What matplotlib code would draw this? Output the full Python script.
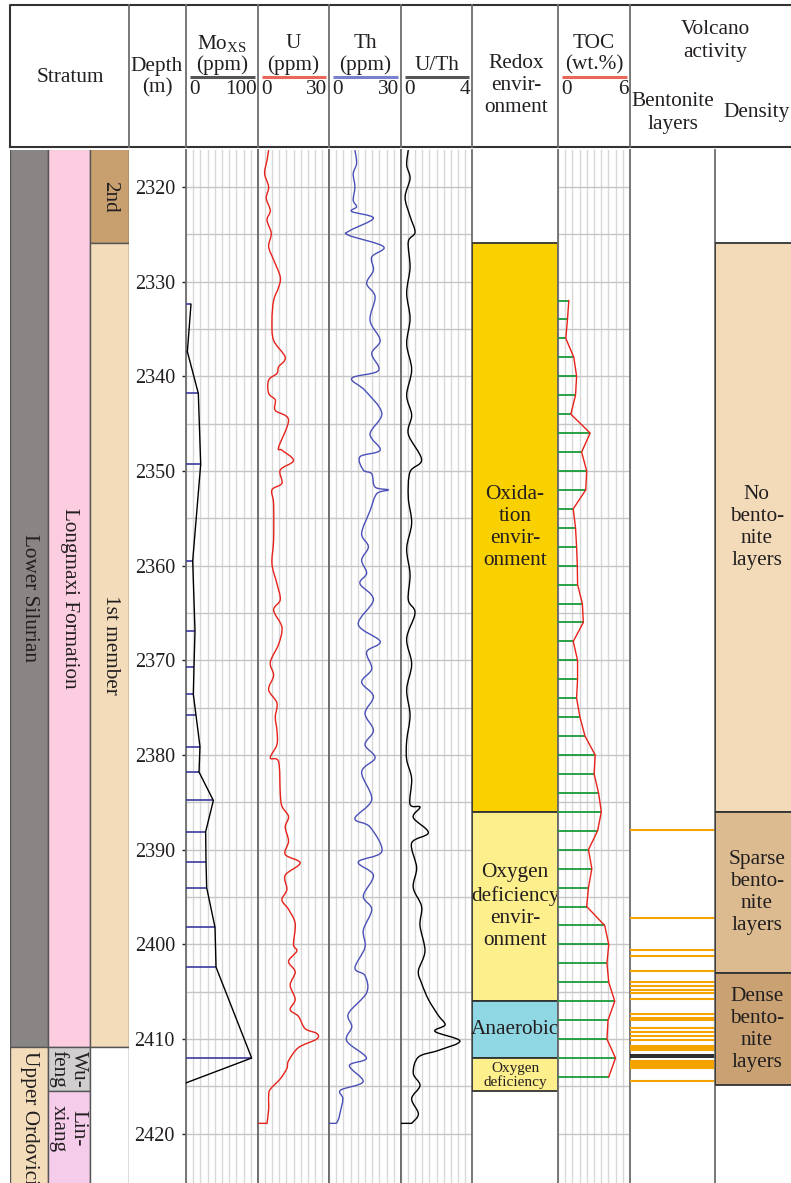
import matplotlib
matplotlib.use("Agg")
import matplotlib.pyplot as plt
from matplotlib.patches import Rectangle, PathPatch
from matplotlib.path import Path
import numpy as np

plt.rcParams['font.family'] = ['Liberation Serif', 'DejaVu Serif']
plt.rcParams['mathtext.default'] = 'regular'

# ------------------------------------------------------------------ data
depth_ticks = [2320, 2330, 2340, 2350, 2360, 2370, 2380, 2390, 2400, 2410, 2420]

mo_depth = [2332.4, 2337.4, 2341.8, 2349.3, 2359.5, 2366.9, 2370.7, 2373.6, 2375.8,
            2379.1, 2381.8, 2384.8, 2388.1, 2391.3, 2394.0, 2398.2, 2402.4, 2412.0, 2414.6]
mo_value = [6.9, 1.9, 17.1, 20.4, 9.3, 12.5, 11.1, 10.2, 13.9,
            19.4, 18.1, 38.0, 27.3, 27.8, 28.7, 40.3, 41.7, 91.2, 0.9]

u_depth = [2316.1, 2317.2, 2318.6, 2320.0, 2321.2, 2322.5, 2323.5, 2324.9, 2326.3, 2327.7,
           2329.5, 2330.6, 2332.0, 2334.1, 2336.2, 2338.0, 2339.0, 2339.7, 2340.4, 2341.8,
           2342.5, 2343.6, 2344.6, 2347.5, 2347.8, 2348.9, 2349.9, 2351.3, 2352.0, 2353.5,
           2357.3, 2359.8, 2361.9, 2363.6, 2364.7, 2366.5, 2368.3, 2370.2, 2371.6, 2373.1,
           2374.5, 2376.0, 2377.4, 2378.9, 2380.3, 2380.7, 2384.0, 2385.4, 2386.5, 2387.6,
           2389.1, 2390.5, 2391.4, 2392.7, 2394.2, 2395.3, 2396.3, 2397.8, 2400.0, 2400.7,
           2401.8, 2402.9, 2404.3, 2405.8, 2406.9, 2407.6, 2408.9, 2409.4, 2410.0, 2410.9,
           2412.3, 2413.1, 2414.2, 2415.3, 2416.0, 2417.4, 2418.9, 2418.9]
u_value = [4.5, 3.8, 2.8, 4.5, 3.5, 5.2, 3.8, 5.6, 4.5, 6.6,
           9.4, 8.7, 6.6, 5.9, 6.6, 11.5, 8.7, 8.0, 4.5, 4.5,
           7.3, 7.3, 12.9, 8.7, 10.1, 15.0, 9.4, 10.1, 5.9, 6.6,
           6.6, 5.9, 8.0, 9.4, 6.6, 10.1, 8.7, 5.2, 6.6, 4.5,
           8.0, 7.3, 8.0, 8.0, 5.2, 8.7, 9.4, 10.1, 12.9, 11.5,
           12.9, 11.5, 17.8, 11.5, 12.2, 10.1, 12.9, 15.7, 15.0, 16.4,
           12.9, 15.7, 13.6, 15.7, 13.6, 17.1, 19.9, 24.8, 24.8, 17.1,
           12.9, 12.2, 9.4, 5.2, 4.5, 4.5, 3.8, 0.0]

th_depth = [2316.1, 2317.5, 2318.6, 2320.0, 2321.4, 2322.1, 2322.6, 2323.3, 2324.6, 2325.1,
            2326.3, 2327.4, 2328.8, 2330.2, 2331.6, 2334.1, 2336.2, 2337.6, 2339.4, 2340.2,
            2341.5, 2343.9, 2346.1, 2347.8, 2348.5, 2349.9, 2350.3, 2351.7, 2352.0, 2352.4,
            2354.2, 2356.6, 2358.0, 2359.4, 2360.8, 2361.9, 2363.6, 2366.2, 2368.0, 2369.1,
            2370.9, 2372.3, 2373.8, 2375.6, 2377.4, 2378.9, 2380.3, 2381.8, 2384.7, 2386.7,
            2387.6, 2390.2, 2391.3, 2392.7, 2394.9, 2396.3, 2398.5, 2400.3, 2402.5, 2403.3,
            2405.1, 2407.3, 2408.7, 2410.2, 2412.0, 2412.8, 2414.5, 2415.4, 2416.3, 2417.8,
            2418.5, 2418.9, 2418.9]
th_value = [10.8, 11.5, 10.1, 10.8, 10.1, 11.5, 9.5, 18.5, 8.8, 8.1,
            22.7, 17.8, 18.5, 15.7, 19.2, 17.1, 21.3, 17.8, 20.6, 9.5,
            15.0, 22.0, 17.1, 21.3, 12.9, 14.3, 17.8, 19.2, 24.7, 19.9,
            17.1, 13.6, 16.4, 13.6, 15.7, 12.9, 18.5, 12.2, 21.3, 15.7,
            17.8, 13.6, 18.5, 15.0, 18.5, 15.0, 19.2, 13.6, 17.8, 10.8,
            17.1, 22.0, 12.2, 18.5, 14.3, 17.8, 14.3, 15.0, 10.8, 15.0,
            15.7, 8.1, 9.5, 7.4, 15.6, 8.5, 14.2, 4.8, 5.8, 4.6,
            3.9, 3.0, 0.0]

uth_depth = [2316.1, 2317.7, 2319.1, 2321.1, 2323.1, 2324.8, 2325.8, 2328.5, 2331.2, 2333.9,
             2336.6, 2339.3, 2342.0, 2344.1, 2346.1, 2348.8, 2350.1, 2352.8, 2355.5, 2358.2,
             2360.9, 2363.6, 2365.0, 2367.7, 2370.4, 2373.1, 2375.8, 2378.5, 2380.5, 2382.5,
             2385.2, 2385.5, 2386.6, 2388.2, 2389.3, 2391.9, 2394.0, 2396.0, 2398.0, 2400.7,
             2402.8, 2404.1, 2405.8, 2407.5, 2408.5, 2409.2, 2410.2, 2411.2, 2411.9, 2413.6,
             2414.9, 2416.3, 2417.9, 2418.9, 2418.9]
uth_value = [0.41, 0.32, 0.51, 0.23, 0.51, 0.79, 0.41, 0.51, 0.32, 0.51,
             0.32, 0.60, 0.32, 0.60, 0.41, 1.16, 0.51, 0.41, 0.60, 0.32,
             0.51, 0.41, 0.79, 0.32, 0.60, 0.32, 0.51, 0.32, 0.32, 0.60,
             0.51, 1.07, 0.69, 1.54, 0.60, 0.88, 0.69, 1.16, 1.07, 1.35,
             0.98, 1.16, 1.54, 2.10, 2.48, 1.92, 3.32, 2.10, 0.98, 0.69,
             1.07, 0.60, 0.98, 0.60, 0.0]

toc_depth = list(range(2332, 2415, 2))
toc_value = [0.90, 0.79, 0.65, 1.32, 1.55, 1.46, 1.07, 2.68, 1.97, 2.39,
             2.31, 1.27, 1.46, 1.55, 1.61, 1.63, 2.03, 2.11, 1.27, 1.63,
             1.63, 1.55, 1.83, 2.25, 3.10, 3.01, 3.38, 3.61, 3.30, 2.54,
             2.82, 2.54, 2.39, 3.89, 4.23, 4.08, 4.23, 4.73, 4.17, 4.08,
             4.79, 4.23]

redox_labels = ['Oxida-\ntion\nenvir-\nonment', 'Oxygen\ndeficiency\nenvir-\nonment',
                'Anaerobic', 'Oxygen\ndeficiency']
redox_top = [2325.9, 2386.0, 2406.0, 2412.0]
redox_bottom = [2386.0, 2406.0, 2412.0, 2415.5]
redox_colors = ['#f9d000', '#fdef8c', '#8fd7e3', '#fdef8c']

bentonite_depth = [2387.9, 2397.2, 2400.6, 2401.2, 2402.8, 2404.0, 2404.4, 2404.8, 2405.1,
                   2405.8, 2407.4, 2407.8, 2408.0, 2408.8, 2409.2, 2409.7, 2410.1, 2410.7,
                   2410.9, 2411.2, 2412.3, 2412.5, 2412.7, 2412.9, 2413.1, 2414.4]
bentonite_dark_depth = [2411.7, 2411.9]

density_labels = ['No\nbento-\nnite\nlayers', 'Sparse\nbento-\nnite\nlayers',
                  'Dense\nbento-\nnite\nlayers']
density_top = [2325.9, 2386.0, 2403.0]
density_bottom = [2386.0, 2403.0, 2414.9]
density_colors = ['#f3dbba', '#dbbb8f', '#c9a172']

# stratigraphic units: (name, top, bottom, colour)
system_units = [('Lower Silurian', 2300.0, 2410.8, '#898585'),
                ('Upper Ordovician', 2410.8, 2440.0, '#f3dcba')]
formation_units = [('Longmaxi Formation', 2300.0, 2410.8, '#fccde0'),
                   ('Wu-\nfeng', 2410.8, 2415.5, '#d0cece'),
                   ('Lin-\nxiang', 2415.5, 2440.0, '#f5cdeb')]
member_units = [('2nd', 2300.0, 2325.9, '#c8a070'),
                ('1st member', 2325.9, 2410.8, '#f3dcba'),
                ('', 2410.8, 2440.0, 'white')]

# ------------------------------------------------------------------ figure
W, H = 791, 1183
fig = plt.figure(figsize=(W / 100, H / 100), dpi=100)

INK = '#231f20'
FRAME = '#6d6d6d'
FS = 15.3

TOP_Y, BOT_Y = 150, 1183
D_TOP, D_BOT = 2316.1, 2425.2


def px_axes(x0, y0, x1, y1):
    return fig.add_axes([x0 / W, 1 - y1 / H, (x1 - x0) / W, (y1 - y0) / H])


def body_axes(x0, x1, xlim=(0, 1)):
    ax = px_axes(x0, TOP_Y, x1, BOT_Y)
    ax.set_xlim(*xlim)
    ax.set_ylim(D_BOT, D_TOP)
    ax.patch.set_alpha(0)
    return ax


def plain(ax):
    ax.set_xticks([])
    ax.set_yticks([])
    for s in ax.spines.values():
        s.set_visible(False)


def track(x0, x1, xmax):
    ax = body_axes(x0, x1, (0, xmax))
    ax.set_xticks(np.linspace(0, xmax, 11))
    ax.set_yticks(depth_ticks)
    ax.set_yticks(np.arange(2325, 2425, 10), minor=True)
    ax.grid(axis='x', color='#d8d8d8', lw=1.0)
    ax.grid(axis='y', which='both', color='#c6c6c6', lw=1.0)
    ax.set_axisbelow(True)
    ax.tick_params(axis='both', which='both', length=0,
                   labelbottom=False, labelleft=False)
    for side in ('top', 'bottom'):
        ax.spines[side].set_visible(False)
    for side in ('left', 'right'):
        ax.spines[side].set_color(FRAME)
        ax.spines[side].set_linewidth(1.3)
    return ax


def smooth_log(ax, values, depths, color):
    """Smoothed curve (Catmull-Rom drawn as cubic Bezier) through the samples;
    the last sample closes the log with a straight return to zero."""
    pts = np.column_stack([values[:-1], depths[:-1]]).astype(float)
    n = len(pts)
    verts = [pts[0]]
    codes = [Path.MOVETO]
    for i in range(n - 1):
        p0 = pts[max(i - 1, 0)]
        p1, p2 = pts[i], pts[i + 1]
        p3 = pts[min(i + 2, n - 1)]
        verts += [p1 + (p2 - p0) / 6.0, p2 - (p3 - p1) / 6.0, p2]
        codes += [Path.CURVE4] * 3
    verts.append([values[-1], depths[-1]])
    codes.append(Path.LINETO)
    ax.add_patch(PathPatch(Path(verts, codes), fill=False, edgecolor=color,
                           lw=1.0, zorder=3))


# ---- stratum columns
ax_s = body_axes(10, 129, (10, 129))
plain(ax_s)
for units, (xa, xb) in ((system_units, (10, 48)), (formation_units, (48, 90)),
                        (member_units, (90, 129))):
    for name, top, bot, col in units:
        ax_s.add_patch(Rectangle((xa, top), xb - xa, bot - top, facecolor=col,
                                 edgecolor='#555555', lw=1.0))
ax_s.text(29, (D_TOP + 2410.8) / 2, 'Lower Silurian', rotation=270, ha='center',
          va='center', fontsize=FS, color=INK)
ax_s.text(29, 2411.3, 'Upper Ordovician', rotation=270, ha='center', va='top',
          fontsize=FS, color=INK, clip_on=True)
ax_s.text(69, (D_TOP + 2410.8) / 2, 'Longmaxi Formation', rotation=270, ha='center',
          va='center', fontsize=FS, color=INK)
ax_s.text(68, 2413.15, 'Wu-\nfeng', rotation=270, ha='center', va='center',
          fontsize=FS, color=INK, linespacing=1.05)
ax_s.text(68, 2419.4, 'Lin-\nxiang', rotation=270, ha='center', va='center',
          fontsize=FS, color=INK, linespacing=1.05)
ax_s.text(110, (D_TOP + 2325.9) / 2, '2nd', rotation=270, ha='center', va='center',
          fontsize=FS, color=INK)
ax_s.text(110, (2325.9 + 2410.8) / 2, '1st member', rotation=270, ha='center',
          va='center', fontsize=FS, color=INK)

# ---- Mo track with depth labels
ax_mo = track(186, 258, 100)
ax_mo.set_yticks(depth_ticks, labels=[str(d) for d in depth_ticks])
ax_mo.tick_params(axis='y', which='major', length=3, width=1, color=INK,
                  labelleft=True, labelsize=14.5, labelcolor=INK, pad=5)
ax_mo.hlines(mo_depth, 0, mo_value, color='#3a3aa0', lw=1.2, zorder=3)
ax_mo.plot(mo_value, mo_depth, color='black', lw=1.0, zorder=4)

# ---- U, Th, U/Th tracks
ax_u = track(258, 329, 30)
smooth_log(ax_u, u_value, u_depth, '#e8211a')
ax_th = track(329, 401, 30)
smooth_log(ax_th, th_value, th_depth, '#4a50b8')
ax_uth = track(401, 472, 4)
smooth_log(ax_uth, uth_value, uth_depth, 'black')

# ---- redox column
ax_r = body_axes(472, 558)
plain(ax_r)
for lab, top, bot, col in zip(redox_labels, redox_top, redox_bottom, redox_colors):
    ax_r.add_patch(Rectangle((0, top), 1, bot - top, facecolor=col,
                             edgecolor='#333333', lw=1.3))
    small = bot - top < 5
    ax_r.text(0.5, (top + bot) / 2 + (0.1 if small else 0), lab, ha='center',
              va='center', fontsize=11 if small else FS, color=INK,
              linespacing=0.95 if small else 1.22)

# ---- TOC track
ax_toc = track(558, 630, 6)
ax_toc.hlines(toc_depth, 0, toc_value, color='#1a9a3a', lw=1.3, zorder=3)
ax_toc.plot(toc_value, toc_depth, color='#e8211a', lw=1.0, zorder=4)

# ---- bentonite layers
ax_b = body_axes(630, 715)
plain(ax_b)
ax_b.spines['right'].set_visible(True)
ax_b.spines['right'].set_color(FRAME)
ax_b.spines['right'].set_linewidth(1.3)
ax_b.hlines(bentonite_depth, 0, 1, color='#f5a300', lw=1.5)
ax_b.hlines(bentonite_dark_depth, 0, 1, color='#1a1a1a', lw=1.3)

# ---- bentonite density
ax_d = body_axes(715, 791)
plain(ax_d)
for lab, top, bot, col in zip(density_labels, density_top, density_bottom, density_colors):
    ax_d.add_patch(Rectangle((0, top), 1.2, bot - top, facecolor=col,
                             edgecolor='#333333', lw=1.3))
    ax_d.text(0.55, (top + bot) / 2, lab, ha='center', va='center', fontsize=FS,
              color=INK, linespacing=1.22)

# ------------------------------------------------------------------ header
hd = px_axes(0, 0, W, 150)
hd.set_xlim(0, W)
hd.set_ylim(150, 0)
hd.axis('off')
hd.plot([10, 10, W + 5], [147, 5, 5], color='#333333', lw=1.5)
hd.plot([10, W + 5], [147, 147], color='#333333', lw=1.5)
for x in (129, 186, 258, 329, 401, 472, 558, 630):
    hd.plot([x, x], [5, 147], color=FRAME, lw=1.3)


def t(x, y, s, **kw):
    kw.setdefault('ha', 'center')
    hd.text(x, y, s, va='center', fontsize=kw.pop('fs', FS), color=INK, **kw)


t(70, 78, 'Stratum')
t(157, 66, 'Depth')
t(157, 88, '(m)')

scales = [(186, 258, r'Mo$_{\mathregular{XS}}$', '(ppm)', '#555555', '100'),
          (258, 329, 'U', '(ppm)', '#e8675a', '30'),
          (329, 401, 'Th', '(ppm)', '#7a80cc', '30'),
          (401, 472, None, 'U/Th', '#555555', '4'),
          (558, 630, 'TOC', '(wt.%)', '#e8675a', '6')]
for x0, x1, name, unit, col, vmax in scales:
    xc = (x0 + x1) / 2
    if name:
        t(xc, 44, name)
    t(xc, 65, unit)
    hd.plot([x0 + 3.5, x1 - 3.5], [77, 77], color=col, lw=2.2, solid_capstyle='butt')
    t(x0 + 3, 89, '0', ha='left')
    t(x1 - 1.5, 89, vmax, ha='right')

t(516, 63, 'Redox')
t(516, 85, 'envir-')
t(516, 107, 'onment')
t(715, 30, 'Volcano')
t(715, 52, 'activity')
t(673, 101, 'Bentonite')
t(673, 124, 'layers')
t(757, 112, 'Density')

fig.savefig('out.png', dpi=100)
